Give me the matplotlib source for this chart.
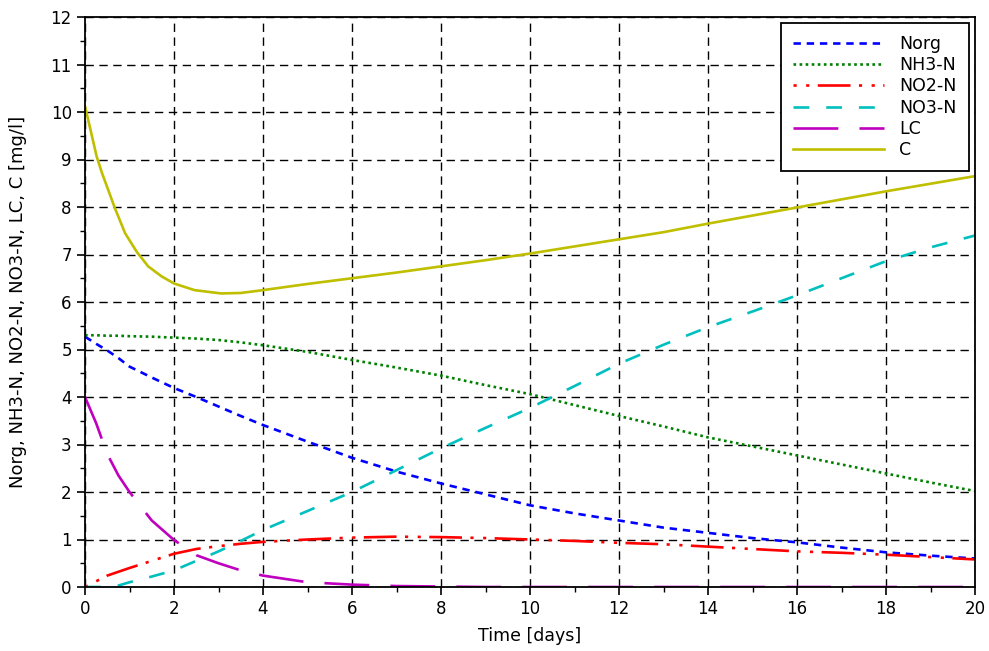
import numpy as np
import matplotlib.pyplot as plt
from matplotlib.ticker import MultipleLocator

# sample times (days) and values
t = [0, 0.25, 0.5, 0.75, 1, 1.5, 2, 2.5, 3, 3.5, 4,
     5, 6, 7, 8, 9, 10, 11, 12, 13, 14, 15, 16, 17, 18, 19, 20]

norg = [5.27, 5.12, 4.98, 4.82, 4.64, 4.41, 4.19, 4.00, 3.80, 3.60, 3.41,
        3.06, 2.72, 2.43, 2.18, 1.95, 1.72, 1.55, 1.40, 1.25, 1.14, 1.03, 0.94, 0.83, 0.73, 0.66, 0.60]
nh3 = [5.30, 5.30, 5.29, 5.29, 5.28, 5.27, 5.25, 5.23, 5.20, 5.15, 5.09,
       4.95, 4.78, 4.62, 4.45, 4.25, 4.06, 3.83, 3.60, 3.38, 3.15, 2.96, 2.77, 2.58, 2.39, 2.20, 2.02]
no2 = [0.00, 0.12, 0.24, 0.32, 0.40, 0.55, 0.70, 0.80, 0.86, 0.91, 0.95,
       1.00, 1.04, 1.06, 1.05, 1.03, 1.00, 0.97, 0.93, 0.90, 0.85, 0.80, 0.75, 0.72, 0.68, 0.63, 0.58]
no3 = [0.00, 0.00, 0.00, 0.03, 0.10, 0.22, 0.35, 0.55, 0.75, 0.97, 1.20,
       1.60, 2.00, 2.46, 2.92, 3.35, 3.77, 4.23, 4.70, 5.10, 5.47, 5.80, 6.14, 6.50, 6.86, 7.15, 7.40]
lc = [4.00, 3.45, 2.80, 2.35, 2.00, 1.40, 0.99, 0.67, 0.50, 0.35, 0.24,
      0.10, 0.05, 0.02, 0.01, 0.0, 0.0, 0.0, 0.0, 0.0, 0.0, 0.0, 0.0, 0.0, 0.0, 0.0, 0.0]

# C has a sharper bend early on, so it gets its own finer time list
t_c = [0, 0.13, 0.26, 0.38, 0.49, 0.67, 0.9, 1.16, 1.42, 1.72, 2, 2.46, 3.06, 3.5, 4,
       5, 6, 7, 8, 9, 10, 11, 12, 13, 14, 15, 16, 17, 18, 19, 20]
c = [10.12, 9.60, 9.07, 8.72, 8.44, 7.98, 7.45, 7.06, 6.75, 6.54, 6.39, 6.25, 6.18, 6.19, 6.25,
     6.38, 6.50, 6.62, 6.75, 6.88, 7.02, 7.17, 7.32, 7.47, 7.65, 7.82, 7.99, 8.16, 8.33, 8.49, 8.65]

plt.rcParams['font.family'] = 'DejaVu Sans'

fig = plt.figure(figsize=(9.89, 6.51), dpi=100)
ax = fig.add_axes([85/989, 1 - 587/651, 890/989, 570/651])

lw = 1.9
ax.plot(t, norg, color='#0000ff', lw=lw, ls=(0, (2.8, 2.2)), label='Norg')
ax.plot(t, nh3, color='#008000', lw=lw, ls=(0, (1.0, 1.3)), label='NH3-N')
ax.plot(t, no2, color='#ff0000', lw=lw, ls=(0, (1.2, 3.6, 1.2, 3.2, 12.4, 3.2)), label='NO2-N')
ax.plot(t, no3, color='#00bfbf', lw=lw, ls=(0, (6, 6.4)), label='NO3-N')
ax.plot(t, lc, color='#bf00bf', lw=lw, ls=(0, (17, 8)), label='LC')
ax.plot(t_c, c, color='#bfbf00', lw=lw, ls='-', label='C')

ax.set_xlim(0, 20)
ax.set_ylim(0, 12)
ax.xaxis.set_major_locator(MultipleLocator(2))
ax.xaxis.set_minor_locator(MultipleLocator(1))
ax.yaxis.set_major_locator(MultipleLocator(1))
ax.yaxis.set_minor_locator(MultipleLocator(0.5))
ax.tick_params(which='major', direction='out', length=6, width=1.2, labelsize=12)
ax.tick_params(which='minor', direction='out', length=3.5, width=1.0)
ax.grid(True, which='major', color='black', lw=1.0, ls=(0, (6, 4)))

for s in ax.spines.values():
    s.set_linewidth(1.3)

ax.set_xlabel('Time [days]', fontsize=12.5, labelpad=6)
ax.set_ylabel('Norg, NH3-N, NO2-N, NO3-N, LC, C [mg/l]', fontsize=13, labelpad=17)

leg = ax.legend(loc='upper right', fontsize=12.5, handlelength=5.2, handletextpad=0.9,
                labelspacing=0.18, borderpad=0.7, borderaxespad=0.35, fancybox=False, framealpha=1)
leg.get_frame().set_edgecolor('black')
leg.get_frame().set_linewidth(1.3)

fig.savefig('out.png', dpi=100)
